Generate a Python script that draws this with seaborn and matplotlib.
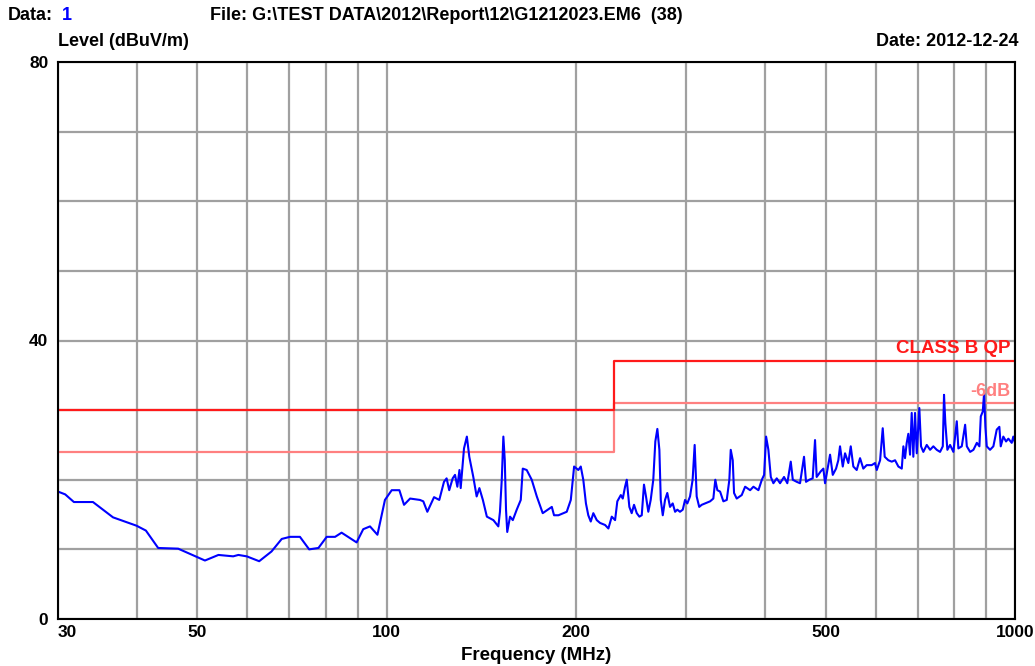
import matplotlib
matplotlib.use("Agg")
import matplotlib.pyplot as plt
import seaborn as sns
import pandas as pd
from matplotlib.ticker import NullFormatter, FixedLocator

# ---- data ----
freq_mhz = [30, 30.8, 31.8, 34.1, 36.7, 40.0, 41.4, 43.3, 46.6, 51.4, 54.0, 57.0, 58.1, 59.9, 62.7, 65.6,
            68.1, 70.2, 72.8, 75.3, 77.9, 80.3, 82.8, 84.8, 87.5, 89.6, 91.8, 94.1, 96.7, 99.4, 101.9,
            104.8, 106.6, 109.0, 113.0, 114.4, 116.1, 119.0, 121.3, 123.4, 124.6, 125.8, 127.4, 128.5,
            129.6, 130.6, 131.2, 132.8, 134.2, 135.4, 137.4, 139.1, 140.5, 142.3, 144.4, 147.9, 150.6,
            151.5, 152.5, 153.4, 154.2, 154.9, 155.6, 157.2, 158.8, 161.1, 163.5, 164.7, 167.1, 170.2,
            173.4, 177.2, 183.2, 184.7, 187.7, 193.5, 196.4, 198.8, 201.9, 203.7, 205.6, 207.6, 209.4,
            211.3, 213.3, 216.0, 218.6, 222.7, 225.4, 228.2, 231.0, 232.9, 235.9, 237.6, 239.6, 241.1,
            243.4, 245.5, 247.6, 250.1, 252.5, 254.7, 256.8, 258.7, 260.9, 263.2, 265.7, 267.7, 269.7,
            271.7, 273.1, 275.1, 277.4, 279.7, 282.5, 285.3, 287.8, 290.2, 293.0, 296.0, 298.5, 301.0,
            304.0, 306.9, 309.2, 311.5, 314.4, 317.3, 321.2, 327.2, 331.1, 333.5, 336.0, 339.4, 343.5,
            347.8, 351.1, 352.9, 355.5, 357.2, 360.7, 367.4, 372.0, 378.9, 383.5, 390.6, 395.5, 398.8,
            401.7, 405.1, 408.7, 412.6, 417.7, 422.8, 429.0, 434.2, 439.7, 443.0, 449.5, 454.9, 461.6,
            465.0, 470.6, 476.5, 480.6, 483.5, 490.7, 495.5, 498.6, 502.8, 507.8, 512.9, 519.1, 523.4,
            526.7, 532.0, 536.5, 543.0, 547.8, 553.0, 559.9, 566.8, 573.6, 580.7, 591.5, 598.7, 602.6,
            610.0, 615.9, 620.4, 628.7, 636.6, 644.4, 652.2, 660.4, 664.3, 668.3, 672.5, 676.5, 680.7,
            684.9, 689.0, 693.3, 697.7, 704.3, 708.7, 714.7, 723.7, 732.6, 741.4, 750.7, 759.9, 767.5,
            771.0, 774.8, 780.5, 788.3, 797.9, 807.9, 812.6, 822.8, 833.0, 838.2, 848.4, 858.7, 869.5,
            877.7, 882.2, 888.6, 892.9, 897.2, 901.7, 912.6, 923.8, 935.3, 944.3, 949.1, 958.1, 967.8,
            976.0, 988.1, 993.8, 1000]
level_dbuv = [18.3, 17.9, 16.8, 16.8, 14.6, 13.4, 12.7, 10.2, 10.1, 8.4, 9.2, 9.0, 9.2, 9.0, 8.3, 9.7,
              11.5, 11.8, 11.8, 10.0, 10.2, 11.8, 11.8, 12.4, 11.6, 11.0, 12.9, 13.3, 12.1, 17.1, 18.5,
              18.5, 16.4, 17.3, 17.1, 16.9, 15.4, 17.5, 17.1, 19.7, 20.2, 18.5, 20.2, 20.7,
              19.0, 21.4, 18.8, 24.5, 26.2, 23.3, 20.4, 17.6, 18.8, 17.1, 14.7, 14.2, 13.3,
              15.4, 20.0, 26.2, 22.8, 15.7, 12.5, 14.7, 14.2, 15.7, 17.1, 21.6, 21.4, 20.0,
              17.6, 15.2, 16.1, 14.9, 14.9, 15.4, 17.1, 21.9, 21.4, 21.9, 20.0, 16.6, 14.9,
              14.0, 15.2, 14.2, 13.8, 13.5, 13.0, 14.7, 14.2, 16.9, 17.8, 17.3, 19.0, 20.0,
              16.1, 15.2, 16.4, 15.2, 14.7, 14.9, 19.3, 17.6, 15.4, 17.1, 20.0, 25.5, 27.3,
              24.3, 17.1, 14.9, 17.1, 18.1, 16.1, 16.6, 15.4, 15.7, 15.4, 15.7, 17.1, 16.6,
              17.6, 20.0, 25.0, 17.6, 16.1, 16.4, 16.6, 16.9, 17.3, 20.0, 18.5, 18.3, 16.9,
              17.1, 20.0, 24.3, 22.8, 18.1, 17.3, 17.8, 19.0, 18.5, 19.0, 18.5, 20.0, 20.7,
              26.2, 24.3, 20.4, 19.5, 20.2, 19.5, 20.4, 19.5, 22.6, 20.0, 19.7, 19.5, 23.3,
              19.7, 20.0, 20.2, 25.7, 20.4, 21.2, 21.6, 19.5, 21.4, 23.6, 20.7, 21.6, 22.8,
              24.8, 21.9, 23.8, 22.4, 24.8, 21.9, 21.4, 23.1, 21.6, 22.1, 22.1, 22.4, 21.4,
              22.8, 27.4, 23.3, 22.8, 22.6, 22.8, 21.9, 21.6, 24.8, 23.1, 25.3, 26.6, 23.6,
              29.6, 23.3, 29.6, 23.8, 30.3, 24.8, 24.0, 25.0, 24.3, 24.8, 24.3, 24.0, 24.8,
              32.2, 28.1, 24.3, 25.0, 24.0, 28.4, 24.5, 24.8, 27.9, 24.8, 24.0, 24.3, 25.3,
              24.8, 29.1, 29.8, 32.4, 27.6, 24.8, 24.3, 24.8, 27.2, 27.6, 24.8, 26.2, 25.5,
              25.9, 25.3, 26.2, 25.3]

limit_freq = [30, 230, 230, 1000]
limit_qp = [30, 30, 37, 37]
limit_6db = [24, 24, 31, 31]

xtick_major = [30, 50, 100, 200, 500, 1000]
xtick_labels = ["30", "50", "100", "200", "500", "1000"]
xgrid_minor = [40, 50, 60, 70, 80, 90, 100, 200, 300, 400, 500, 600, 700, 800, 900]
ytick_major = [0, 40, 80]

# ---- style ----
sns.set_theme(style="white")
plt.rcParams['font.family'] = ['Liberation Sans', 'DejaVu Sans']
for k in ['text.color', 'axes.labelcolor', 'xtick.color', 'ytick.color']:
    plt.rcParams[k] = 'black'

fig = plt.figure(figsize=(10.35, 6.66), dpi=100)
ax = fig.add_axes([58 / 1035, 47 / 666, 957 / 1035, 557 / 666])

trace = pd.DataFrame({"f": freq_mhz, "lvl": level_dbuv})
lim = pd.DataFrame({"f": limit_freq, "qp": limit_qp, "m6": limit_6db})

ax.set_xscale("log")
ax.set_xlim(30, 1000)
ax.set_ylim(0, 80)
ax.xaxis.set_major_locator(FixedLocator(xtick_major))
ax.xaxis.set_minor_locator(FixedLocator(xgrid_minor))
ax.xaxis.set_minor_formatter(NullFormatter())
ax.set_xticklabels(xtick_labels)
ax.set_yticks(ytick_major)
ax.yaxis.set_minor_locator(FixedLocator(list(range(10, 80, 10))))
ax.grid(True, which="both", color="#a0a0a0", linewidth=1.6)
ax.set_axisbelow(True)
ax.tick_params(which="both", length=0)
ax.tick_params(axis="x", pad=4)
ax.tick_params(axis="y", pad=7)
for lab in ax.get_xticklabels() + ax.get_yticklabels():
    lab.set_fontweight("bold")
    lab.set_fontsize(12.5)
ax.get_xticklabels()[0].set_horizontalalignment("left")

sns.lineplot(data=lim, x="f", y="m6", ax=ax, color="#ff8080", linewidth=1.6,
             sort=False, estimator=None)
sns.lineplot(data=lim, x="f", y="qp", ax=ax, color="#ff1a1a", linewidth=1.6,
             sort=False, estimator=None)
sns.lineplot(data=trace, x="f", y="lvl", ax=ax, color="#0000ff", linewidth=1.5,
             sort=False, estimator=None)

for s in ax.spines.values():
    s.set_color("black")
    s.set_linewidth(1.5)
    s.set_visible(True)

ax.set_xlabel("Frequency (MHz)", fontsize=13.5, fontweight="bold", labelpad=5)
ax.set_ylabel("")

ax.text(0.995, 37.6, "CLASS B QP", transform=ax.get_yaxis_transform(), ha="right", va="bottom",
        color="#ff1a1a", fontsize=13.5, fontweight="bold")
ax.text(0.995, 31.4, "-6dB", transform=ax.get_yaxis_transform(), ha="right", va="bottom",
        color="#ff8080", fontsize=13, fontweight="bold")

fs = 13
fig.text(8 / 1035, 1 - 16 / 666, "Data:", ha="left", va="center", fontsize=fs, fontweight="bold")
fig.text(62 / 1035, 1 - 16 / 666, "1", ha="left", va="center", fontsize=fs, fontweight="bold",
         color="#0000ff")
fig.text(210 / 1035, 1 - 16 / 666, "File: G:\\TEST DATA\\2012\\Report\\12\\G1212023.EM6  (38)",
         ha="left", va="center", fontsize=fs, fontweight="bold")
fig.text(58 / 1035, 1 - 42 / 666, "Level (dBuV/m)", ha="left", va="center", fontsize=fs,
         fontweight="bold")
fig.text(1018 / 1035, 1 - 42 / 666, "Date: 2012-12-24", ha="right", va="center", fontsize=fs,
         fontweight="bold")

fig.savefig("out.png", dpi=100)
